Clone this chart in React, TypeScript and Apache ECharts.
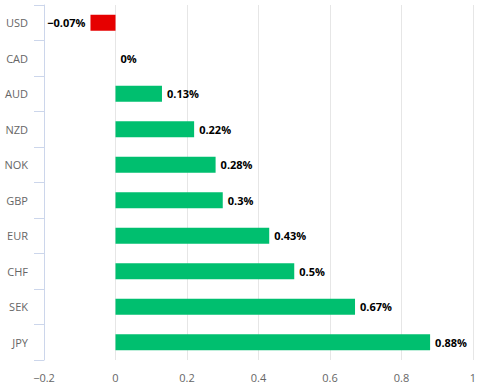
import React, { useEffect, useRef } from "react";
import * as echarts from "echarts";

const categories = ["USD", "CAD", "AUD", "NZD", "NOK", "GBP", "EUR", "CHF", "SEK", "JPY"];
const values = [-0.07, 0, 0.13, 0.22, 0.28, 0.3, 0.43, 0.5, 0.67, 0.88];
const xTicks = [-0.2, 0, 0.2, 0.4, 0.6, 0.8, 1];

const FONT = "'Open Sans', Lato, sans-serif";

export default function App() {
  const ref = useRef<HTMLDivElement>(null);
  useEffect(() => {
    if (!ref.current) return;
    const chart = echarts.init(ref.current, undefined, { renderer: "svg" });
    chart.setOption({
      animation: false,
      grid: { left: 44, right: 17, top: 5, bottom: 32, containLabel: false },
      xAxis: {
        type: "value",
        min: xTicks[0],
        max: xTicks[xTicks.length - 1],
        interval: 0.2,
        axisLine: { show: false },
        axisTick: { show: false },
        splitLine: { show: true, lineStyle: { color: "#e6e6e6", width: 1 } },
        axisLabel: {
          color: "#666",
          fontSize: 11,
          fontFamily: FONT,
          margin: 12,
          formatter: (v: number) => {
            const r = Math.round(v * 10) / 10;
            return r < 0 ? "\u2212" + Math.abs(r) : String(r);
          },
        },
      },
      yAxis: {
        type: "category",
        data: categories,
        inverse: true,
        z: 10,
        axisLine: { show: true, onZero: false, lineStyle: { color: "#ccd6eb", width: 1 } },
        axisTick: { show: true, length: 10, lineStyle: { color: "#ccd6eb", width: 1 } },
        axisLabel: { color: "#666", fontSize: 11, fontFamily: FONT, margin: 16 },
        splitLine: { show: false },
      },
      series: [
        {
          type: "bar",
          barWidth: 16,
          data: values.map((v) => ({
            value: v,
            itemStyle: { color: v < 0 ? "#e60000" : "#00bf6f" },
            label: {
              show: true,
              position: v < 0 ? "left" : "right",
              distance: 5,
              formatter: () => (v < 0 ? "\u2212" + Math.abs(v) : String(v)) + "%",
              color: "#000",
              fontWeight: "bold",
              fontSize: 11,
              fontFamily: FONT,
            },
          })),
        },
      ],
    });
    return () => chart.dispose();
  }, []);
  return <div ref={ref} style={{ width: 490, height: 392, position: "absolute", left: 0, top: 0 }} />;
}
